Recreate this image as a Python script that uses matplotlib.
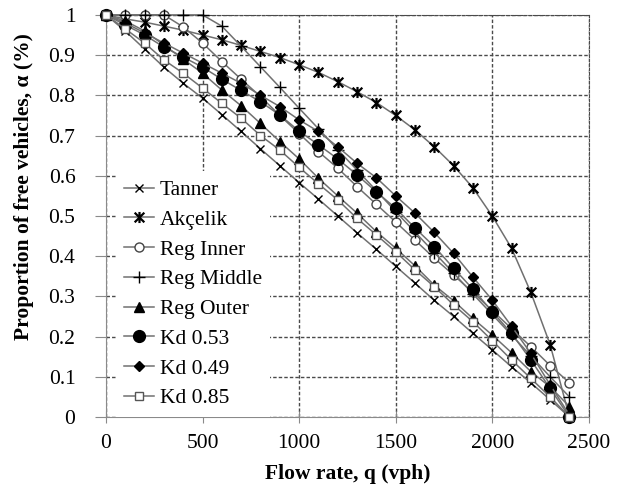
import matplotlib
matplotlib.use("Agg")
import matplotlib.pyplot as plt
from matplotlib.path import Path

plt.rcParams["font.family"] = ["Liberation Serif", "DejaVu Serif"]
plt.rcParams["font.size"] = 15.5

flow = [0, 100, 200, 300, 400, 500, 600, 700, 800, 900, 1000, 1100, 1200,
        1300, 1400, 1500, 1600, 1700, 1800, 1900, 2000, 2100, 2200, 2300, 2400]

tanner = [1.0, 0.96, 0.915, 0.87, 0.83, 0.793, 0.752, 0.71, 0.667, 0.625, 0.583,
          0.542, 0.5, 0.458, 0.417, 0.375, 0.333, 0.29, 0.25, 0.208, 0.167,
          0.125, 0.085, 0.043, 0.0]
akcelik = [1.0, 0.99, 0.982, 0.972, 0.962, 0.95, 0.938, 0.924, 0.909, 0.894,
           0.876, 0.857, 0.834, 0.809, 0.782, 0.75, 0.714, 0.672, 0.625, 0.57,
           0.50, 0.42, 0.31, 0.18, 0.0]
reg_inner = [1.0, 1.0, 1.0, 1.0, 0.97, 0.93, 0.884, 0.84, 0.797, 0.75, 0.705,
             0.66, 0.619, 0.573, 0.529, 0.485, 0.44, 0.395, 0.353, 0.31, 0.265,
             0.22, 0.175, 0.128, 0.085]
reg_middle = [1.0, 1.0, 1.0, 1.0, 1.0, 1.0, 0.972, 0.922, 0.871, 0.82, 0.768,
              0.717, 0.665, 0.614, 0.563, 0.511, 0.46, 0.409, 0.358, 0.306,
              0.255, 0.204, 0.152, 0.10, 0.05]
reg_outer = [1.0, 0.985, 0.96, 0.925, 0.89, 0.855, 0.813, 0.774, 0.73, 0.685,
             0.642, 0.594, 0.55, 0.507, 0.461, 0.42, 0.376, 0.328, 0.289, 0.245,
             0.204, 0.16, 0.113, 0.075, 0.026]
kd_053 = [1.0, 0.975, 0.95, 0.92, 0.895, 0.87, 0.84, 0.812, 0.784, 0.751, 0.711,
          0.677, 0.642, 0.602, 0.56, 0.519, 0.47, 0.424, 0.37, 0.318, 0.262,
          0.208, 0.142, 0.071, 0.0]
kd_049 = [1.0, 0.98, 0.955, 0.93, 0.905, 0.88, 0.855, 0.83, 0.80, 0.772, 0.739,
          0.71, 0.672, 0.631, 0.595, 0.55, 0.507, 0.459, 0.407, 0.348, 0.291,
          0.226, 0.158, 0.08, 0.005]
kd_085 = [1.0, 0.965, 0.93, 0.888, 0.855, 0.818, 0.78, 0.743, 0.70, 0.664, 0.621,
          0.58, 0.54, 0.494, 0.453, 0.411, 0.366, 0.324, 0.279, 0.237, 0.19,
          0.142, 0.096, 0.05, 0.0]

# Excel-style "star": an X with a vertical stroke
star = Path([(-1, -1), (1, 1), (-1, 1), (1, -1), (0, -1.15), (0, 1.15)],
            [Path.MOVETO, Path.LINETO, Path.MOVETO, Path.LINETO,
             Path.MOVETO, Path.LINETO])

series = [
    ("Tanner", tanner, dict(marker="x", ms=6, mfc="black", mec="black", mew=1)),
    ("Akçelik", akcelik, dict(marker=star, ms=8, mfc="black", mec="black", mew=1.6)),
    ("Reg Inner", reg_inner, dict(marker="o", ms=6.5, mfc="white", mec="#444444", mew=1)),
    ("Reg Middle", reg_middle, dict(marker="+", ms=8, mfc="black", mec="black", mew=1)),
    ("Reg Outer", reg_outer, dict(marker="^", ms=7, mfc="black", mec="black", mew=1)),
    ("Kd 0.53", kd_053, dict(marker="o", ms=8.5, mfc="black", mec="black", mew=1)),
    ("Kd 0.49", kd_049, dict(marker="D", ms=5.5, mfc="black", mec="black", mew=1)),
    ("Kd 0.85", kd_085, dict(marker="s", ms=6, mfc="white", mec="#555555", mew=1)),
]

fig = plt.figure(figsize=(6.27, 4.88), dpi=100)
ax = fig.add_axes([0.169, 0.1455, 0.770, 0.824])

for name, vals, style in series:
    ax.plot(flow, vals, color="#707070", lw=1.1, label=name, clip_on=False,
            zorder=3, **style)

ax.set_xlim(0, 2500)
ax.set_ylim(0, 1)
ax.set_xticks([0, 500, 1000, 1500, 2000, 2500])
ax.set_yticks([0, 0.1, 0.2, 0.3, 0.4, 0.5, 0.6, 0.7, 0.8, 0.9, 1])
ax.set_yticklabels(["0", "0.1", "0.2", "0.3", "0.4", "0.5", "0.6", "0.7",
                    "0.8", "0.9", "1"])
ax.grid(True, color="#4a4a4a", linestyle=(0, (2.5, 1.5)), lw=1)
for side in ["top", "right"]:
    ax.spines[side].set_color("#4a4a4a")
    ax.spines[side].set_linestyle((0, (2.5, 1.5)))
for side in ["left", "bottom"]:
    ax.spines[side].set_color("#8a8a8a")
ax.tick_params(axis="y", direction="out", length=8, color="#8a8a8a", pad=14)
ax.tick_params(axis="x", direction="inout", length=8, color="#8a8a8a", pad=8)

ax.set_xlabel("Flow rate, q (vph)", fontweight="bold", labelpad=8)
ax.set_ylabel("Proportion of free vehicles, α (%)", fontweight="bold")
ax.yaxis.set_label_coords(-0.15, 0.572)

leg = ax.legend(loc="lower left", bbox_to_anchor=(0.02, 0.0), borderaxespad=0,
                handlelength=1.4, handletextpad=0.25, labelspacing=0.45,
                borderpad=0.4, frameon=True, fancybox=False, framealpha=1)
leg.get_frame().set_linewidth(0)
leg.get_frame().set_facecolor("white")
leg.set_zorder(5)

plt.savefig("out.png", dpi=100)
plt.close()
